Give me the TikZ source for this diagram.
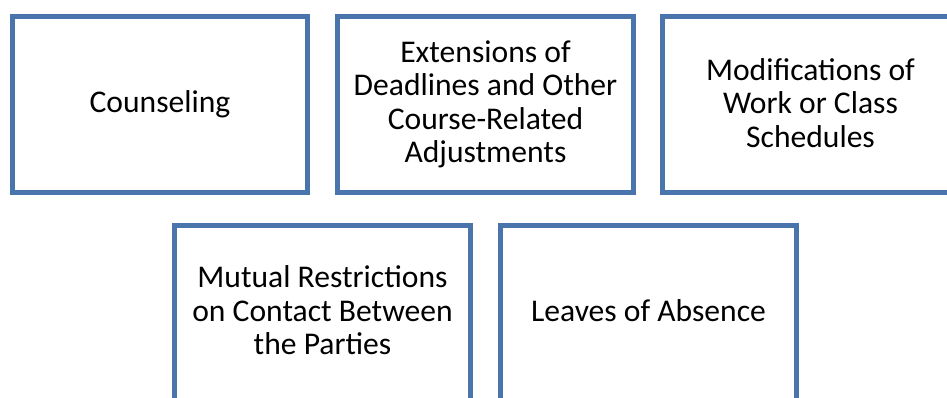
\documentclass[tikz,border=0pt]{standalone}
\usepackage{fontspec}
\setmainfont{Carlito}
\definecolor{boxblue}{RGB}{74,117,172}
\begin{document}
\begin{tikzpicture}[x=1pt,y=-1pt,
  blockbox/.style={draw=boxblue,line width=5pt,fill=white,minimum width=295.5pt,minimum height=176pt,inner sep=0pt},
  blocktext/.style={inner sep=0pt,font=\fontsize{31.6}{33.4}\selectfont,align=center}]
\useasboundingbox (0,0) rectangle (947,397);
\node[blockbox] (b1) at (160,104.5) {};
\node[blockbox] (b2) at (485.5,104.5) {};
\node[blockbox] (b3) at (810.5,104.5) {};
\node[blockbox,minimum height=200pt,anchor=north] (b4) at (322.5,222.5) {};
\node[blockbox,minimum height=200pt,anchor=north] (b5) at (648.5,222.5) {};
\node[blocktext] (t1) at (160,104.5) {Counseling};
\node[blocktext] (t2) at (485.5,104.5) {Extensions of\\Deadlines and Other\\Course-Related\\Adjustments};
\node[blocktext] (t3) at (810.5,103) {Modifications of\\Work or Class\\Schedules};
\node[blocktext] (t4) at (322.5,310.5) {Mutual Restrictions\\on Contact Between\\the Parties};
\node[blocktext] (t5) at (648.5,310.5) {Leaves of Absence};
\end{tikzpicture}
\end{document}
